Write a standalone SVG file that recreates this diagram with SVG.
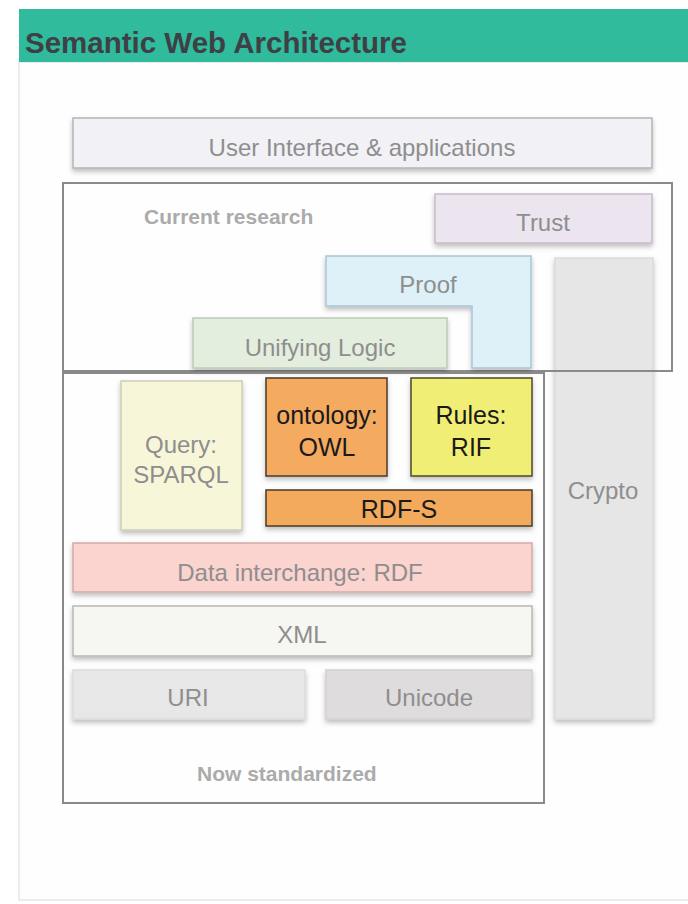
<svg xmlns="http://www.w3.org/2000/svg" width="688" height="904" viewBox="0 0 688 904">
<defs>
<filter id="sh" x="-10%" y="-10%" width="120%" height="140%">
<feDropShadow dx="0" dy="3" stdDeviation="2.5" flood-color="#000" flood-opacity="0.25"/>
</filter>
</defs>
<style>
text{font-family:"Liberation Sans",Arial,sans-serif;text-anchor:middle}
.lbl{font-size:24px;fill:#8e8e8e}
.dark{font-size:25px;fill:#1a1a1a}
.cap{font-size:21px;font-weight:bold;fill:#ababab;text-anchor:start}
.box{stroke-width:1.5}
.frame{fill:none;stroke:#8a8a8a;stroke-width:2}
</style>
<rect x="0" y="0" width="688" height="904" fill="#ffffff"/>
<rect x="19" y="62" width="680" height="838" fill="#fefefe" stroke="#e6e6e6" stroke-width="1.5"/>
<g id="header">
<rect x="19" y="9" width="669" height="53" fill="#2fbb9c"/>
<text x="25" y="53" style="font-size:29.5px;font-weight:bold;fill:#3f3f46;text-anchor:start">Semantic Web Architecture</text>
</g>
<g id="ui">
<rect class="box" x="73" y="118" width="579" height="50" fill="#f2f1f6" stroke="#b4b4b8" filter="url(#sh)"/>
<text class="lbl" x="362" y="156">User Interface &amp; applications</text>
</g>
<g id="crypto">
<rect class="box" x="555" y="258" width="98" height="461" fill="#e6e6e6" stroke="#dadada" filter="url(#sh)"/>
<text class="lbl" x="603" y="499">Crypto</text>
</g>
<g id="current-research">
<rect class="frame" x="63" y="183" width="609" height="188"/>
<text class="cap" x="144" y="224">Current research</text>
</g>
<g id="trust">
<rect class="box" x="435" y="194" width="217" height="49" fill="#ece4ee" stroke="#c6bcc8" filter="url(#sh)"/>
<text class="lbl" x="543" y="231">Trust</text>
</g>
<g id="proof">
<path class="box" d="M326 256 H531 V368 H472 V306 H326 Z" fill="#def0f8" stroke="#a9c6d4" filter="url(#sh)"/>
<text class="lbl" x="428" y="293">Proof</text>
</g>
<g id="unifying-logic">
<rect class="box" x="193" y="318" width="254" height="50" fill="#e3eedf" stroke="#bccbb6" filter="url(#sh)"/>
<text class="lbl" x="320" y="356">Unifying Logic</text>
</g>
<g id="now-standardized">
<rect class="frame" x="63" y="373" width="481" height="430"/>
<text class="cap" x="197" y="781">Now standardized</text>
</g>
<g id="query">
<rect class="box" x="121" y="381" width="121" height="149" fill="#f8f6d9" stroke="#cfcdb4" filter="url(#sh)"/>
<text class="lbl" x="181" y="453">Query:</text>
<text class="lbl" x="181" y="483">SPARQL</text>
</g>
<g id="owl">
<rect class="box" x="266" y="378" width="121" height="98" fill="#f4aa5e" stroke="#4a3a2a" filter="url(#sh)"/>
<text class="dark" x="327" y="424">ontology:</text>
<text class="dark" x="327" y="456">OWL</text>
</g>
<g id="rif">
<rect class="box" x="411" y="378" width="121" height="98" fill="#f1ee74" stroke="#4a4a2a" filter="url(#sh)"/>
<text class="dark" x="471" y="424">Rules:</text>
<text class="dark" x="471" y="456">RIF</text>
</g>
<g id="rdfs">
<rect class="box" x="266" y="490" width="266" height="36" fill="#f3aa5b" stroke="#4a3a2a" filter="url(#sh)"/>
<text class="dark" x="399" y="518">RDF-S</text>
</g>
<g id="rdf">
<rect class="box" x="73" y="543" width="459" height="49" fill="#fbd3cf" stroke="#d4aaa6" filter="url(#sh)"/>
<text class="lbl" x="300" y="581">Data interchange: RDF</text>
</g>
<g id="xml">
<rect class="box" x="73" y="606" width="459" height="50" fill="#f6f6f2" stroke="#b8b8b4" filter="url(#sh)"/>
<text class="lbl" x="302" y="643">XML</text>
</g>
<g id="uri">
<rect class="box" x="73" y="670" width="232" height="49" fill="#e7e7e7" stroke="#dcdcdc" filter="url(#sh)"/>
<text class="lbl" x="188" y="706">URI</text>
</g>
<g id="unicode">
<rect class="box" x="326" y="670" width="206" height="49" fill="#dedcdc" stroke="#d2d0d0" filter="url(#sh)"/>
<text class="lbl" x="429" y="706">Unicode</text>
</g>
<g id="connectors"/>
</svg>
